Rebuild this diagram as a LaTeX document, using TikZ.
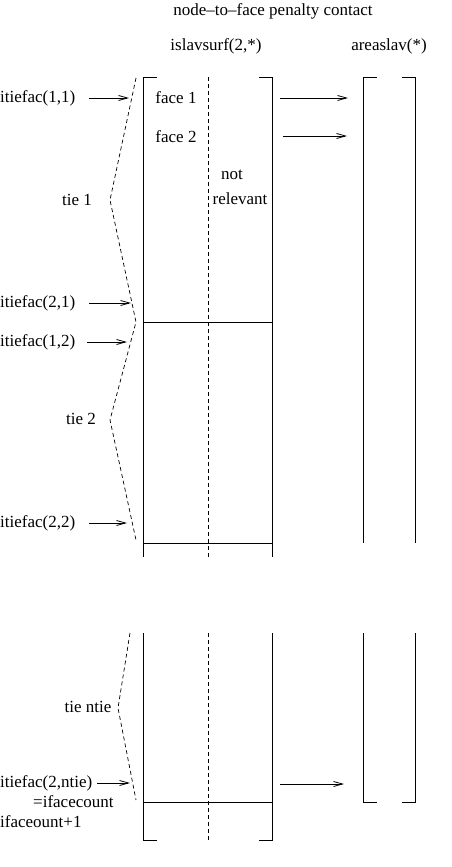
\documentclass[tikz,border=0pt]{standalone}
\usepackage{fontspec}
\setmainfont{Liberation Serif}
\usetikzlibrary{arrows.meta}

\tikzset{
    txt/.style={inner sep=0pt,font=\fontsize{17}{19}\selectfont},
    lbl/.style={txt,anchor=west},
    arr/.style={-{Straight Barb[length=9pt,width=5pt]},line width=0.8pt},
    tiebrace/.style={dash pattern=on 4pt off 3pt,line width=0.7pt},
    col/.style={line width=0.8pt}
}

\begin{document}
\begin{tikzpicture}[x=1pt,y=-1pt]
    \useasboundingbox (0,0) rectangle (451,867);
    % headings
    \node[txt] (title) at (273,11) {node--to--face penalty contact};
    \node[txt] (islav) at (216,46) {islavsurf(2,*)};
    \node[txt] (area) at (389,46) {areaslav(*)};
    % the islavsurf column
    \draw[col] (157,77) -- (143,77) -- (143,557);
    \draw[col] (259,77) -- (272,77) -- (272,557);
    \draw[col] (143,322) -- (272,322);
    \draw[col] (143,543) -- (272,543);
    \draw[col] (143,633) -- (143,840) -- (157,840);
    \draw[col] (272,633) -- (272,840) -- (259,840);
    \draw[col] (143,802) -- (272,802);
    \draw[tiebrace] (208,77) -- (208,557);
    \draw[tiebrace] (208,633) -- (208,840);
    % the areaslav column
    \draw[col] (377,77) -- (363,77) -- (363,543);
    \draw[col] (402,77) -- (415,77) -- (415,543);
    \draw[col] (363,633) -- (363,802) -- (377,802);
    \draw[col] (415,633) -- (415,802) -- (402,802);
    % texts in the column
    \node[txt] (face1) at (176,98) {face 1};
    \node[txt] (face2) at (176,137) {face 2};
    \node[txt] (nott) at (232,175) {not};
    \node[txt] (relev) at (240,199) {relevant};
    % the ties
    \draw[tiebrace] (136,78) -- (110,200) -- (136,322) -- (110,420) -- (136,540);
    \draw[tiebrace] (130,633) -- (118,708) -- (136,800);
    \node[txt] (tie1) at (77,200) {tie 1};
    \node[txt] (tie2) at (81,419) {tie 2};
    \node[txt] (tien) at (88,707) {tie ntie};
    % pointers into the column
    \node[lbl] (if11) at (0,98) {itiefac(1,1)};
    \node[lbl] (if21) at (0,303) {itiefac(2,1)};
    \node[lbl] (if12) at (0,342) {itiefac(1,2)};
    \node[lbl] (if22) at (0,523) {itiefac(2,2)};
    \node[lbl] (ifn2) at (0,783) {itiefac(2,ntie)};
    \node[lbl] (eqcount) at (33,802) {=ifacecount};
    \node[lbl] (plusone) at (0,822) {ifaceount+1};
    \coordinate (p11) at (129,98);
    \coordinate (p21) at (131,303);
    \coordinate (p12) at (127,342);
    \coordinate (p22) at (127,523);
    \coordinate (pn2) at (130,783);
    \draw[arr,shorten <=14pt] (if11) -- (p11);
    \draw[arr,shorten <=14pt] (if21) -- (p21);
    \draw[arr,shorten <=12pt] (if12) -- (p12);
    \draw[arr,shorten <=14pt] (if22) -- (p22);
    \draw[arr,shorten <=5pt] (ifn2) -- (pn2);
    % pointers into areaslav
    \coordinate (s1) at (280,98);
    \coordinate (e1) at (348,98);
    \coordinate (s2) at (283,136);
    \coordinate (e2) at (347,136);
    \coordinate (sn) at (280,784);
    \coordinate (en) at (344,784);
    \draw[arr] (s1) -- (e1);
    \draw[arr] (s2) -- (e2);
    \draw[arr] (sn) -- (en);
\end{tikzpicture}
\end{document}
